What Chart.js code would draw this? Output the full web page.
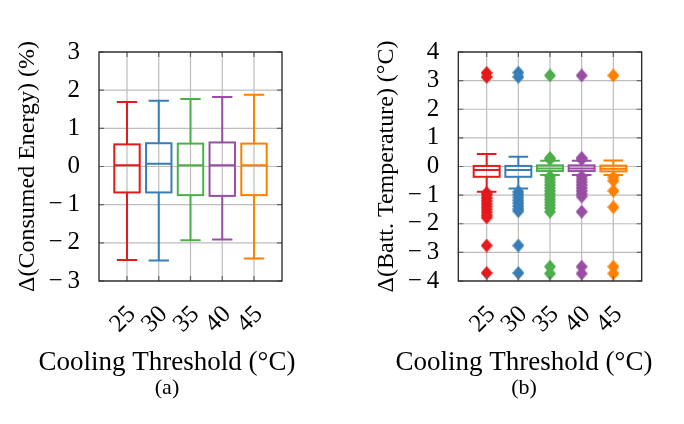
<!DOCTYPE html>
<html>
<head>
<meta charset="utf-8">
<script src="https://cdn.jsdelivr.net/npm/chart.js@4.4.0/dist/chart.umd.min.js"></script>
<style>
  html, body { margin: 0; padding: 0; background: #fff; }
  #wrap { position: relative; width: 684px; height: 424px; overflow: hidden; }
  canvas { position: absolute; top: 0; }
  #chartA { left: 0; }
  #chartB { left: 364px; }
</style>
</head>
<body>
<div id="wrap">
  <canvas id="chartA" width="334" height="424"></canvas>
  <canvas id="chartB" width="320" height="424"></canvas>
</div>
<script>
'use strict';

// ********** DATA **********

const thresholds = [25, 30, 35, 40, 45];
const seriesColors = ['#e41a1c', '#377eb8', '#4daf4a', '#984ea3', '#ff7f00'];

// (a) consumed energy, %
const energyLow    = [-2.45, -2.46, -1.93, -1.91, -2.41];
const energyQ1     = [-0.68, -0.68, -0.75, -0.77, -0.75];
const energyMedian = [0.03, 0.07, 0.03, 0.03, 0.03];
const energyQ3     = [0.58, 0.61, 0.60, 0.63, 0.60];
const energyHigh   = [1.69, 1.72, 1.77, 1.82, 1.88];
const energyTicks  = [-3, -2, -1, 0, 1, 2, 3];

// (b) battery temperature, °C
const tempLow    = [-0.88, -0.77, -0.30, -0.30, -0.30];
const tempQ1     = [-0.36, -0.36, -0.16, -0.16, -0.17];
const tempMedian = [-0.12, -0.12, -0.07, -0.07, -0.08];
const tempQ3     = [0.02, 0.02, 0.04, 0.04, 0.03];
const tempHigh   = [0.44, 0.34, 0.20, 0.20, 0.21];
const tempTicks  = [-4, -3, -2, -1, 0, 1, 2, 3, 4];

const tempOutliers25 = [3.27, 3.13, -0.92, -1.0, -1.1, -1.2, -1.3, -1.4, -1.5, -1.6, -1.7, -1.78, -2.76, -3.72];
const tempOutliers30 = [3.28, 3.13, -0.88, -0.98, -1.08, -1.18, -1.28, -1.38, -1.48, -1.56, -2.76, -3.72];
const tempOutliers35 = [3.18, 0.30, 0.25, -0.35, -0.45, -0.55, -0.65, -0.75, -0.85, -0.95, -1.05, -1.15, -1.25, -1.35, -1.45, -1.58, -3.5, -3.74];
const tempOutliers40 = [3.18, 0.30, 0.25, -0.35, -0.45, -0.55, -0.65, -0.75, -0.85, -0.95, -1.05, -1.58, -3.5, -3.74];
const tempOutliers45 = [3.18, -0.38, -0.50, -0.85, -1.42, -3.5, -3.74];


// ********** HELPER FUNCTIONS **********

// diamond marker, a bit taller than wide
function makeDiamond(color) {
  let c = document.createElement('canvas');
  c.width = 12;
  c.height = 14;
  let g = c.getContext('2d');
  g.fillStyle = color;
  g.beginPath();
  g.moveTo(6, 0);
  g.lineTo(12, 7);
  g.lineTo(6, 14);
  g.lineTo(0, 7);
  g.closePath();
  g.fill();
  return c;
}

function minusLabel(v) {
  return v < 0 ? '\u2212\u2009' + Math.abs(v) : String(v);
}

// grid under the marks; whiskers, boxes, medians and frame over them
function makeBoxPlugin(stats) {
  return {
    id: 'boxPlot',
    beforeDatasetsDraw(chart) {
      let ctx = chart.ctx;
      let xs = chart.scales.x;
      let ys = chart.scales.y;
      let area = chart.chartArea;
      ctx.save();
      ctx.strokeStyle = '#bdbdbd';
      ctx.lineWidth = 1.2;
      ctx.beginPath();
      ys.ticks.forEach(tk => {
        let y = ys.getPixelForValue(tk.value);
        ctx.moveTo(area.left, y); ctx.lineTo(area.right, y);
      });
      xs.ticks.forEach(tk => {
        let x = xs.getPixelForValue(tk.value);
        ctx.moveTo(x, area.top); ctx.lineTo(x, area.bottom);
      });
      ctx.stroke();
      ctx.restore();
    },
    afterDatasetsDraw(chart) {
      let ctx = chart.ctx;
      let xs = chart.scales.x;
      let ys = chart.scales.y;
      let area = chart.chartArea;

      ctx.save();
      ctx.lineWidth = 2;
      for (let i = 0; i < thresholds.length; i++) {
        let t = thresholds[i];
        let cx = xs.getPixelForValue(t);
        let bl = xs.getPixelForValue(t - stats.boxHalf);
        let br = xs.getPixelForValue(t + stats.boxHalf);
        let cl = xs.getPixelForValue(t - stats.capHalf);
        let cr = xs.getPixelForValue(t + stats.capHalf);
        let yLow = ys.getPixelForValue(stats.low[i]);
        let yQ1 = ys.getPixelForValue(stats.q1[i]);
        let yMed = ys.getPixelForValue(stats.median[i]);
        let yQ3 = ys.getPixelForValue(stats.q3[i]);
        let yHigh = ys.getPixelForValue(stats.high[i]);

        ctx.strokeStyle = seriesColors[i];
        ctx.beginPath();
        // whiskers
        ctx.moveTo(cx, yQ3); ctx.lineTo(cx, yHigh);
        ctx.moveTo(cx, yQ1); ctx.lineTo(cx, yLow);
        // caps
        ctx.moveTo(cl, yHigh); ctx.lineTo(cr, yHigh);
        ctx.moveTo(cl, yLow); ctx.lineTo(cr, yLow);
        // median
        ctx.moveTo(bl, yMed); ctx.lineTo(br, yMed);
        ctx.stroke();
        ctx.strokeRect(bl, yQ3, br - bl, yQ1 - yQ3);
      }

      // tick marks inside the frame
      ctx.strokeStyle = '#666';
      ctx.lineWidth = 1.2;
      ctx.beginPath();
      ys.ticks.forEach(tk => {
        let y = ys.getPixelForValue(tk.value);
        ctx.moveTo(area.left, y); ctx.lineTo(area.left + 5, y);
        ctx.moveTo(area.right, y); ctx.lineTo(area.right - 5, y);
      });
      xs.ticks.forEach(tk => {
        let x = xs.getPixelForValue(tk.value);
        ctx.moveTo(x, area.top); ctx.lineTo(x, area.top + 5);
        ctx.moveTo(x, area.bottom); ctx.lineTo(x, area.bottom - 5);
      });
      ctx.stroke();

      // frame
      ctx.strokeStyle = '#222';
      ctx.lineWidth = 1.3;
      ctx.strokeRect(area.left, area.top, area.right - area.left, area.bottom - area.top);
      ctx.restore();
    }
  };
}

// build one panel
function makePanel(canvasId, cfg) {
  let datasets = [];
  for (let i = 0; i < cfg.outliers.length; i++) {
    datasets.push({
      data: cfg.outliers[i].map(v => ({x: thresholds[i], y: v})),
      pointStyle: makeDiamond(seriesColors[i]),
      pointRadius: 6,
      showLine: false
    });
  }

  return new Chart(document.getElementById(canvasId), {
    type: 'scatter',
    data: {datasets: datasets},
    plugins: [makeBoxPlugin(cfg.stats)],
    options: {
      responsive: false,
      animation: false,
      layout: {padding: {top: 52, bottom: 24.5, left: 0, right: 0}},
      plugins: {
        legend: {display: false},
        tooltip: {enabled: false},
        subtitle: {
          display: true,
          position: 'bottom',
          text: 'Cooling Threshold (\u00B0C)',
          color: '#000',
          font: {size: 27, lineHeight: 1.1},
          padding: 0
        },
        title: {
          display: true,
          position: 'bottom',
          text: cfg.caption,
          color: '#000',
          font: {size: 22, weight: 'normal', lineHeight: 1.0},
          padding: 0
        }
      },
      scales: {
        x: {
          type: 'linear',
          min: cfg.xMin,
          max: cfg.xMax,
          afterBuildTicks: s => { s.ticks = thresholds.map(v => ({value: v})); },
          afterFit: s => { s.height = 66.8; },
          grid: {display: false},
          border: {display: false},
          ticks: {
            autoSkip: false,
            minRotation: 45,
            maxRotation: 45,
            padding: 11,
            labelOffset: 5,
            color: '#000',
            font: {size: 25},
            callback: v => String(v)
          }
        },
        y: {
          min: cfg.yTicks[0],
          max: cfg.yTicks[cfg.yTicks.length - 1],
          afterBuildTicks: s => { s.ticks = cfg.yTicks.map(v => ({value: v})); },
          afterFit: s => { s.width = cfg.yWidth; },
          grid: {display: false},
          border: {display: false},
          ticks: {
            autoSkip: false,
            padding: 11,
            color: '#000',
            font: {size: 25},
            callback: minusLabel
          },
          title: {
            display: true,
            text: cfg.yTitle,
            color: '#000',
            font: {size: 24},
            padding: {top: cfg.yTitlePad, bottom: 0}
          }
        },
        yRight: {
          type: 'linear',
          position: 'right',
          grid: {display: false},
          border: {display: false},
          ticks: {display: false},
          afterFit: s => { s.width = cfg.rightWidth; }
        }
      }
    }
  });
}


// ********** EXECUTABLE **********

Chart.defaults.font.family = "'Liberation Serif', 'Times New Roman', serif";
Chart.defaults.color = '#000';

makePanel('chartA', {
  stats: {low: energyLow, q1: energyQ1, median: energyMedian, q3: energyQ3, high: energyHigh, boxHalf: 2.0, capHalf: 1.6},
  outliers: [],
  yTicks: energyTicks,
  yTitle: '\u0394(Consumed Energy) (%)',
  caption: '(a)',
  xMin: 20.59,
  xMax: 49.41,
  yWidth: 99,
  rightWidth: 52,
  yTitlePad: 13.5
});

makePanel('chartB', {
  stats: {low: tempLow, q1: tempQ1, median: tempMedian, q3: tempQ3, high: tempHigh, boxHalf: 2.05, capHalf: 1.55},
  outliers: [tempOutliers25, tempOutliers30, tempOutliers35, tempOutliers40, tempOutliers45],
  yTicks: tempTicks,
  yTitle: '\u0394(Batt. Temperature) (\u00B0C)',
  caption: '(b)',
  xMin: 20.52,
  xMax: 49.48,
  yWidth: 94.3,
  rightWidth: 42.3,
  yTitlePad: 8.6
});
</script>
</body>
</html>
